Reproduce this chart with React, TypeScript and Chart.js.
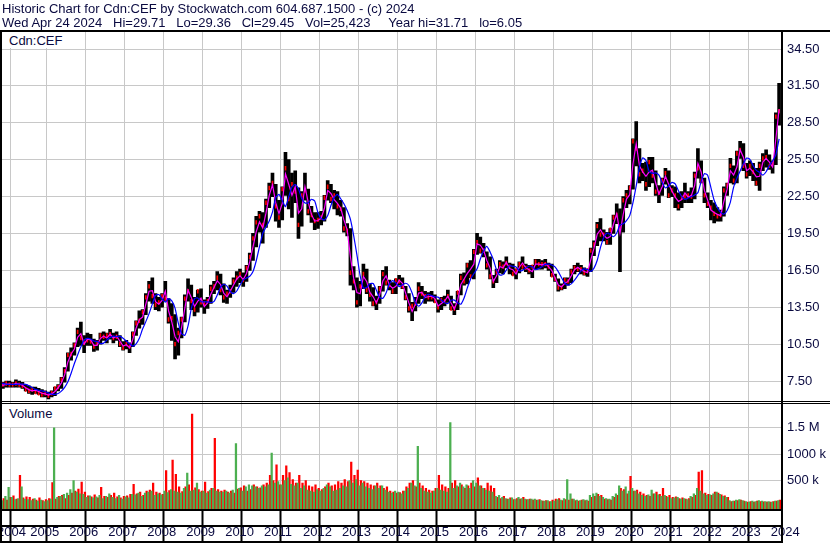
import React, { useEffect, useRef } from 'react';
import { Chart, registerables } from 'chart.js';

Chart.register(...registerables);

// ---- data (monthly, April 2004 .. April 2024) ----
const START_YEAR = 2004;
const START_MONTH = 3; // April, 0-based

const highs = [
  7.6, 7.4, 7.5, 7.5, 7.4, 7.6, 7.5, 7.4, 7.2,
  7.1, 7.0, 7.0, 6.9, 6.8, 6.7, 6.6, 6.7, 7.0, 7.2, 7.8, 8.6,
  9.8, 10.2, 10.6, 11.8, 12.3, 11.2, 11.4, 11.3, 10.9, 10.8, 11.4, 11.5,
  11.4, 11.7, 11.4, 11.5, 11.2, 10.7, 10.8, 10.6, 11.5, 12.4, 13.2, 13.3,
  14.6, 15.6, 15.9, 14.6, 14.3, 14.6, 15.6, 14.2, 13.8, 12.9, 11.8, 12.7,
  14.5, 15.8, 15.3, 14.3, 14.9, 15.0, 14.1, 14.3, 15.3, 15.6, 16.4, 16.2,
  15.4, 14.9, 15.3, 15.9, 16.4, 16.6, 16.3, 16.9, 17.9, 19.5, 20.9, 21.3,
  21.2, 22.3, 23.6, 24.4, 23.5, 22.2, 23.3, 26.1, 25.5, 24.4, 24.6, 23.2,
  22.9, 24.4, 23.1, 21.7, 21.2, 21.2, 21.3, 22.6, 23.8, 23.5, 23.0, 22.9,
  22.2, 21.6, 20.3, 19.9, 16.8, 15.9, 15.6, 17.0, 16.6, 15.4, 15.1, 14.4,
  15.2, 16.5, 16.8, 15.7, 15.5, 15.8, 16.1, 15.9, 15.2, 14.6, 13.9, 14.3,
  15.5, 15.2, 14.8, 14.7, 14.8, 14.5, 14.1, 14.3, 14.4, 14.9, 14.4, 13.8,
  14.8, 16.2, 16.3, 17.1, 17.3, 18.2, 19.5, 19.2, 18.7, 18.0, 17.6, 16.1,
  16.6, 17.3, 17.2, 17.6, 17.1, 17.0, 16.6, 17.2, 17.6, 17.0, 16.9, 16.9,
  17.4, 17.4, 17.3, 17.4, 17.1, 17.0, 16.2, 15.8, 15.4, 15.9, 15.9, 16.6,
  16.9, 17.1, 16.9, 16.7, 16.6, 18.3, 18.9, 20.4, 20.7, 19.8, 19.6, 19.9,
  21.0, 21.9, 21.5, 22.5, 23.0, 23.4, 27.2, 28.6, 26.4, 25.2, 25.3, 25.7,
  25.7, 24.6, 23.4, 24.0, 24.8, 24.6, 23.4, 23.3, 22.8, 22.9, 23.6, 22.9,
  23.2, 24.5, 26.4, 25.4, 24.0, 22.8, 22.2, 22.0, 21.6, 21.4, 23.3, 23.6,
  25.6, 25.0, 26.2, 27.0, 26.8, 25.2, 25.4, 25.2, 24.8, 25.3, 26.0, 26.3,
  25.9, 25.4, 29.3, 31.7,
];

const lows = [
  6.9, 6.9, 7.0, 7.0, 7.0, 7.0, 7.0, 6.9, 6.7,
  6.5, 6.4, 6.5, 6.4, 6.2, 6.2, 6.05, 6.2, 6.3, 6.7, 6.9, 7.4,
  8.3, 9.2, 9.6, 10.3, 10.4, 9.8, 10.4, 10.4, 9.9, 10.0, 10.5, 10.8,
  10.6, 10.9, 10.6, 10.8, 10.3, 10.0, 10.1, 9.8, 10.3, 11.2, 11.8, 12.1,
  12.9, 14.0, 13.8, 13.3, 13.2, 13.5, 14.0, 12.2, 10.8, 9.3, 9.6, 11.0,
  12.3, 14.0, 13.3, 12.8, 13.1, 13.5, 13.0, 13.4, 13.8, 14.6, 14.9, 14.5,
  13.9, 13.8, 14.3, 14.7, 15.2, 15.5, 15.2, 15.6, 16.5, 17.3, 18.4, 19.6,
  18.7, 20.0, 21.6, 22.5, 20.5, 20.0, 20.6, 22.6, 21.5, 20.8, 22.0, 19.1,
  20.1, 22.2, 21.0, 20.4, 19.8, 19.9, 20.2, 20.5, 22.2, 22.0, 21.5, 21.0,
  20.9, 19.6, 19.3, 15.3, 14.9, 13.5, 13.6, 15.0, 14.6, 14.0, 13.6, 13.3,
  13.8, 14.8, 15.3, 14.9, 14.6, 14.6, 15.3, 15.0, 14.1, 13.1, 12.4, 13.2,
  13.8, 14.2, 13.8, 14.0, 14.0, 13.9, 13.1, 13.3, 13.6, 13.9, 13.3, 12.9,
  13.3, 14.5, 15.3, 15.4, 15.9, 15.8, 17.8, 17.9, 17.6, 16.6, 15.8, 15.1,
  15.5, 16.3, 16.2, 16.7, 16.2, 16.1, 15.8, 16.3, 16.6, 16.4, 16.2, 15.9,
  16.6, 16.6, 16.6, 16.7, 16.5, 16.0, 15.6, 14.8, 14.9, 15.0, 15.3, 15.5,
  16.2, 16.4, 16.2, 16.1, 16.0, 16.4, 17.7, 18.5, 18.9, 18.9, 18.6, 18.6,
  19.5, 20.3, 16.4, 19.6, 21.6, 21.9, 23.1, 25.0, 23.6, 23.8, 23.0, 23.3,
  23.6, 22.6, 22.0, 22.6, 23.5, 22.4, 22.5, 21.6, 21.4, 21.6, 22.0, 22.0,
  22.0, 22.3, 24.0, 23.6, 22.0, 21.6, 20.6, 20.35, 20.5, 20.5, 20.9, 22.6,
  23.6, 23.5, 23.6, 25.6, 24.6, 24.0, 24.2, 23.8, 23.4, 23.0, 24.6, 24.9,
  24.7, 24.4, 25.1, 28.3,
];

const closes = [
  7.2, 7.2, 7.3, 7.2, 7.2, 7.3, 7.2, 7.1, 6.8,
  6.7, 6.8, 6.6, 6.5, 6.4, 6.5, 6.3, 6.5, 6.9, 7.0, 7.6, 8.3,
  9.6, 9.7, 10.4, 11.5, 11.0, 10.6, 10.8, 10.7, 10.3, 10.6, 11.2, 11.1,
  11.2, 11.3, 11.0, 11.1, 10.5, 10.2, 10.5, 10.3, 11.3, 12.2, 12.4, 13.1,
  14.3, 15.2, 14.4, 13.7, 13.9, 14.4, 14.2, 12.5, 12.6, 10.5, 11.4, 12.5,
  14.2, 14.8, 14.0, 13.3, 14.8, 13.9, 13.8, 14.0, 15.0, 15.2, 15.9, 14.9,
  14.3, 14.6, 14.8, 15.6, 15.9, 16.2, 15.7, 16.7, 17.6, 19.1, 20.4, 20.9,
  20.2, 22.0, 23.2, 23.6, 21.7, 20.8, 23.1, 24.8, 22.3, 23.5, 22.9, 20.2,
  22.6, 23.0, 21.3, 21.0, 20.5, 20.6, 20.8, 22.4, 23.3, 22.3, 22.6, 21.7,
  21.5, 19.9, 19.7, 16.3, 15.6, 13.9, 15.2, 16.2, 14.9, 14.5, 13.8, 13.9,
  15.0, 16.2, 15.5, 15.3, 14.8, 15.7, 15.6, 15.2, 14.3, 13.4, 13.6, 13.8,
  15.0, 14.6, 14.4, 14.3, 14.3, 14.0, 13.5, 14.1, 14.0, 14.4, 13.4, 13.4,
  14.7, 15.9, 15.6, 16.9, 16.0, 18.0, 18.8, 18.1, 18.1, 16.9, 16.0, 15.6,
  16.4, 17.0, 16.8, 17.1, 16.8, 16.2, 16.5, 17.0, 16.8, 16.7, 16.5, 16.8,
  17.2, 17.0, 17.0, 17.0, 16.8, 16.1, 15.8, 15.1, 15.1, 15.7, 15.6, 16.4,
  16.7, 16.6, 16.6, 16.3, 16.5, 18.1, 18.6, 20.1, 19.4, 19.4, 18.8, 19.8,
  20.8, 21.0, 19.9, 22.2, 22.6, 23.2, 27.0, 26.4, 24.3, 24.6, 23.5, 25.3,
  24.2, 22.9, 22.8, 23.8, 24.4, 22.6, 23.0, 22.6, 21.7, 22.4, 22.5, 22.6,
  22.5, 24.2, 24.8, 23.8, 22.6, 21.9, 21.6, 21.1, 20.9, 21.0, 23.0, 23.4,
  25.0, 23.8, 26.0, 26.3, 25.0, 24.3, 25.0, 24.5, 23.6, 25.0, 25.6, 25.7,
  25.0, 25.2, 29.0, 29.45,
];

const fastMA = [
  7.25, 7.15, 7.25, 7.25, 7.2, 7.3, 7.25, 7.15, 6.95,
  6.8, 6.7, 6.75, 6.65, 6.5, 6.45, 6.35, 6.45, 6.65, 6.95, 7.35, 8.0,
  9.05, 9.7, 10.1, 11.05, 11.35, 10.5, 10.9, 10.85, 10.4, 10.4, 10.95, 11.15,
  11.0, 11.3, 11.0, 11.15, 10.75, 10.35, 10.45, 10.2, 10.9, 11.8, 12.5, 12.7,
  13.75, 14.8, 14.85, 13.95, 13.75, 14.05, 14.8, 13.2, 12.3, 11.1, 10.7, 11.85,
  13.4, 14.9, 14.3, 13.55, 14.0, 14.25, 13.55, 13.85, 14.55, 15.1, 15.65, 15.35,
  14.65, 14.35, 14.8, 15.3, 15.8, 16.05, 15.75, 16.25, 17.2, 18.4, 19.65, 20.45,
  19.95, 21.15, 22.6, 23.45, 22.0, 21.1, 21.95, 24.35, 23.5, 22.6, 23.3, 21.15,
  21.5, 23.3, 22.05, 21.05, 20.5, 20.55, 20.75, 21.55, 23.0, 22.75, 22.25, 21.95,
  21.55, 20.6, 19.8, 17.6, 15.85, 14.7, 14.6, 16.0, 15.6, 14.7, 14.35, 13.85,
  14.5, 15.65, 16.05, 15.3, 15.05, 15.2, 15.7, 15.45, 14.65, 13.85, 13.15, 13.75,
  14.65, 14.7, 14.3, 14.35, 14.4, 14.2, 13.6, 13.8, 14.0, 14.4, 13.85, 13.35,
  14.05, 15.35, 15.8, 16.25, 16.6, 17.0, 18.65, 18.55, 18.15, 17.3, 16.7, 15.6,
  16.05, 16.8, 16.7, 17.15, 16.65, 16.55, 16.2, 16.75, 17.1, 16.7, 16.55, 16.4,
  17.0, 17.0, 16.95, 17.05, 16.8, 16.5, 15.9, 15.3, 15.15, 15.45, 15.6, 16.05,
  16.55, 16.75, 16.55, 16.4, 16.3, 17.35, 18.3, 19.45, 19.8, 19.35, 19.1, 19.25,
  20.25, 21.1, 19.5, 21.05, 22.3, 22.65, 25.15, 26.8, 25.0, 24.5, 24.15, 24.5,
  24.65, 23.6, 22.7, 23.3, 24.15, 23.5, 22.95, 22.45, 22.1, 22.25, 22.8, 22.45,
  22.6, 23.4, 25.2, 24.5, 23.0, 22.2, 21.4, 21.2, 21.05, 20.95, 22.1, 23.1,
  24.6, 24.25, 24.9, 26.3, 25.7, 24.6, 24.8, 24.5, 24.1, 24.15, 25.3, 25.6,
  25.3, 24.9, 27.2, 29.6,
];

const slowMA = [
  7.3, 7.3, 7.25, 7.22, 7.22, 7.23, 7.25, 7.25, 7.23,
  7.12, 6.97, 6.82, 6.75, 6.7, 6.63, 6.53, 6.43, 6.42, 6.48, 6.68, 6.98,
  7.43, 8.13, 8.92, 9.62, 10.28, 10.83, 10.97, 10.92, 10.75, 10.72, 10.55, 10.58,
  10.83, 11.03, 11.15, 11.1, 11.15, 10.97, 10.75, 10.52, 10.33, 10.52, 10.97, 11.73,
  12.33, 12.98, 13.75, 14.47, 14.53, 14.18, 13.92, 14.2, 14.02, 13.43, 12.2, 11.37,
  11.22, 11.98, 13.38, 14.2, 14.25, 13.95, 13.93, 13.93, 13.88, 13.98, 14.5, 15.1,
  15.37, 15.22, 14.78, 14.6, 14.82, 15.3, 15.72, 15.87, 16.02, 16.4, 17.28, 18.42,
  19.5, 20.02, 20.52, 21.23, 22.4, 22.68, 22.18, 21.68, 22.47, 23.27, 23.48, 23.13,
  22.35, 21.98, 21.98, 22.28, 22.13, 21.2, 20.7, 20.6, 20.95, 21.77, 22.43, 22.67,
  22.32, 21.92, 21.37, 20.65, 19.33, 17.75, 16.05, 15.05, 15.1, 15.4, 15.43, 14.88,
  14.3, 14.23, 14.67, 15.4, 15.67, 15.47, 15.18, 15.32, 15.45, 15.27, 14.65, 13.88,
  13.58, 13.85, 14.37, 14.55, 14.45, 14.35, 14.32, 14.07, 13.87, 13.8, 14.07, 14.08,
  13.87, 13.75, 14.25, 15.07, 15.8, 16.22, 16.62, 17.42, 18.07, 18.45, 18.0, 17.38,
  16.53, 16.12, 16.15, 16.52, 16.88, 16.83, 16.78, 16.47, 16.5, 16.68, 16.85, 16.78,
  16.55, 16.65, 16.8, 16.98, 17.0, 16.93, 16.78, 16.4, 15.9, 15.45, 15.3, 15.4,
  15.7, 16.07, 16.45, 16.62, 16.57, 16.42, 16.68, 17.32, 18.37, 19.18, 19.53, 19.42,
  19.23, 19.53, 20.2, 20.28, 20.55, 20.95, 22.0, 23.37, 24.87, 25.65, 25.43, 24.55,
  24.38, 24.43, 24.25, 23.65, 23.2, 23.38, 23.65, 23.53, 22.97, 22.5, 22.27, 22.38,
  22.5, 22.62, 22.82, 23.73, 24.37, 24.23, 23.23, 22.2, 21.6, 21.22, 21.07, 21.37,
  22.05, 23.27, 23.98, 24.58, 25.15, 25.63, 25.53, 25.03, 24.63, 24.47, 24.25, 24.52,
  25.02, 25.4, 25.9, 27.2,
];

// volume in thousands of shares
const volGreen = [
  150, 120, 200, 370, 180, 140, 160, 380, 150,
  140, 120, 160, 110, 130, 100, 120, 150, 1500, 180, 200, 240,
  260, 330, 500, 280, 250, 240, 180, 210, 170, 190, 220, 160,
  200, 250, 180, 160, 220, 150, 190, 170, 240, 230, 260, 200,
  260, 280, 300, 220, 250, 230, 300, 270, 330, 300, 280, 260,
  350, 640, 300, 320, 450, 280, 300, 260, 320, 350, 300, 280,
  280, 300, 260, 320, 1200, 350, 300, 380, 420, 400, 380, 350,
  400, 380, 420, 1020, 450, 480, 420, 500, 550, 430, 400, 450,
  350, 400, 320, 300, 280, 330, 300, 350, 420, 380, 300, 320,
  350, 400, 380, 500, 450, 520, 400, 450, 380, 350, 330, 400,
  350, 400, 320, 280, 260, 300, 280, 250, 300, 350, 450, 400,
  1150, 350, 300, 280, 260, 300, 350, 320, 300, 280, 1600, 350,
  400, 450, 380, 420, 350, 500, 450, 400, 350, 320, 300, 280,
  200, 220, 180, 160, 150, 170, 140, 180, 160, 150, 140, 150,
  150, 130, 120, 110, 120, 100, 110, 140, 130, 160, 520, 250,
  150, 130, 120, 140, 130, 220, 250, 260, 200, 180, 160, 150,
  200, 250, 400, 300, 380, 300, 350, 300, 250, 220, 200, 230,
  320, 250, 230, 200, 220, 180, 160, 170, 180, 150, 160, 140,
  200, 250, 350, 300, 250, 220, 230, 250, 280, 240, 200, 180,
  120, 110, 130, 140, 120, 100, 90, 110, 100, 120, 110, 100,
  100, 90, 110, 120,
];

const volRed = [
  200, 160, 130, 180, 210, 150, 600, 170, 190,
  180, 150, 130, 170, 120, 140, 160, 460, 150, 200, 220, 160,
  220, 260, 300, 340, 470, 280, 210, 190, 230, 170, 370, 200,
  180, 220, 260, 190, 170, 200, 210, 240, 430, 250, 280, 220,
  300, 320, 450, 280, 260, 240, 690, 310, 890, 620, 380, 290,
  380, 420, 1760, 360, 330, 300, 470, 290, 350, 1300, 330, 300,
  320, 280, 300, 260, 340, 360, 400, 300, 330, 420, 380, 360,
  420, 450, 600, 500, 800, 420, 600, 780, 650, 520, 450, 600,
  450, 500, 400, 380, 420, 350, 330, 380, 450, 400, 420, 480,
  450, 520, 480, 850, 600, 700, 500, 480, 450, 420, 400, 450,
  400, 350, 380, 300, 280, 260, 270, 300, 380, 450, 500, 380,
  450, 400, 350, 320, 300, 350, 600, 420, 380, 350, 450, 500,
  380, 420, 350, 400, 450, 380, 550, 400, 350, 450, 400, 350,
  180, 160, 200, 150, 170, 140, 160, 150, 180, 140, 150, 130,
  130, 140, 110, 120, 100, 130, 150, 160, 120, 140, 130, 150,
  120, 110, 130, 120, 110, 180, 200, 240, 220, 150, 140, 130,
  180, 220, 350, 330, 250, 580, 300, 320, 280, 250, 220, 200,
  250, 280, 240, 350, 200, 220, 180, 190, 160, 170, 150, 160,
  180, 220, 660, 690, 260, 240, 220, 280, 260, 230, 210, 180,
  100, 110, 120, 130, 110, 90, 100, 90, 110, 100, 95, 90,
  90, 100, 110, 130,
];

const yearLabels = [
  '2004', '2005', '2006', '2007', '2008', '2009', '2010', '2011', '2012', '2013', '2014',
  '2015', '2016', '2017', '2018', '2019', '2020', '2021', '2022', '2023', '2024',
];
const priceTicks = [7.5, 9, 10.5, 12, 13.5, 15, 16.5, 18, 19.5, 21, 22.5, 24, 25.5, 27, 28.5, 30, 31.5, 33, 34.5];
const volumeTicks = [500, 1000, 1500];
const volumeTickLabels = ['500 k', '1000 k', '1.5 M'];

const titleLine1 = 'Historic Chart for Cdn:CEF by Stockwatch.com 604.687.1500 - (c) 2024';
const titleLine2 = 'Wed Apr 24 2024   Hi=29.71   Lo=29.36   Cl=29.45   Vol=25,423     Year hi=31.71   lo=6.05';

// ---- styling ----
const FONT = '"Liberation Sans", Arial, sans-serif';
const TEXT = '#0a0a40';
const GRID = '#c8c8c8';

const X_MIN = 2004.351;
const X_MAX = 2024.366;
const FIRST_LABEL_POS = 2004.145;
const VOL_FLOOR = -40;

export default function App() {
  const ref = useRef<HTMLCanvasElement | null>(null);

  useEffect(() => {
    const canvas = ref.current;
    if (!canvas) return;
    const months = highs.map((_, i) => START_YEAR + (START_MONTH + i + 0.5) / 12);
    const pts = (arr: number[]) => arr.map((v, i) => ({ x: months[i], y: v }));
    const yearTickValues = yearLabels.map((l, i) => (i === 0 ? FIRST_LABEL_POS : Number(l)));

    const chrome = {
      id: 'chrome',
      afterDraw(chart: any) {
        const { ctx, chartArea } = chart;
        const yv = chart.scales.yv;
        ctx.save();
        ctx.fillStyle = '#000';
        const r = Math.round(chartArea.right);
        ctx.fillRect(0, 30, 830, 2);
        ctx.fillRect(0, 30, 2, 513);
        ctx.fillRect(r - 1, 30, 2, 513);
        ctx.fillRect(0, Math.round(yv.top) - 1, 830, 1);
        ctx.fillRect(0, Math.round(yv.top) + 1, 830, 1);
        ctx.fillRect(0, 509, r + 1, 2);
        ctx.fillRect(0, 525, r + 1, 2);
        ctx.fillRect(0, 541, r + 1, 2);
        ctx.restore();
      },
    };

    const chart = new Chart(canvas, {
      type: 'bar',
      data: {
        datasets: [
          {
            type: 'line',
            label: 'MA slow',
            data: pts(slowMA),
            yAxisID: 'y',
            borderColor: '#0000ff',
            borderWidth: 1.2,
            pointRadius: 0,
            tension: 0.2,
            order: 0,
          },
          {
            type: 'line',
            label: 'MA fast',
            data: pts(fastMA),
            yAxisID: 'y',
            borderColor: '#ff00ff',
            borderWidth: 1.2,
            pointRadius: 0,
            tension: 0,
            order: 1,
          },
          {
            type: 'bar',
            label: 'Close',
            data: months.map((x, i) => ({ x, y: [closes[i] - 0.15, closes[i] + 0.15] })),
            yAxisID: 'y',
            backgroundColor: '#ff0000',
            barThickness: 1,
            grouped: false,
            order: 2,
          },
          {
            type: 'bar',
            label: 'Range',
            data: months.map((x, i) => ({ x, y: [lows[i], highs[i]] })),
            yAxisID: 'y',
            backgroundColor: '#000000',
            barThickness: 3,
            grouped: false,
            order: 3,
          },
          {
            type: 'bar',
            label: 'Volume up',
            data: pts(volGreen),
            yAxisID: 'yv',
            backgroundColor: '#4caf50',
            barThickness: 1.6,
            base: VOL_FLOOR,
            stack: 'g',
            order: 4,
          },
          {
            type: 'bar',
            label: 'Volume down',
            data: pts(volRed),
            yAxisID: 'yv',
            backgroundColor: '#ff0000',
            barThickness: 1.6,
            base: VOL_FLOOR,
            stack: 'r',
            order: 5,
          },
        ] as any,
      },
      options: {
        animation: false,
        responsive: false,
        events: [],
        layout: { padding: { top: 32, left: 2, right: 0, bottom: 0 } },
        plugins: { legend: { display: false }, tooltip: { enabled: false } },
        scales: {
          x: {
            type: 'linear',
            position: 'bottom',
            min: X_MIN,
            max: X_MAX,
            offset: false,
            afterBuildTicks: (s: any) => {
              s.ticks = yearTickValues.map((v) => ({ value: v }));
            },
            afterFit: (s: any) => {
              s.height = 34;
            },
            ticks: {
              autoSkip: false,
              maxRotation: 0,
              minRotation: 0,
              align: 'start',
              labelOffset: 3,
              padding: -16,
              color: TEXT,
              font: { family: FONT, size: 13 },
              callback: (_v: any, i: number) => yearLabels[i],
            },
            grid: { color: GRID, lineWidth: 1, drawTicks: true, tickLength: 32, tickColor: '#000', tickWidth: 2 },
            border: { display: false },
          },
          y: {
            type: 'linear',
            position: 'right',
            stack: 'panels',
            stackWeight: 369.5,
            min: 5.833,
            max: 35.883,
            afterBuildTicks: (s: any) => {
              s.ticks = priceTicks.map((v) => ({ value: v }));
            },
            afterFit: (s: any) => {
              s.width = 48;
            },
            ticks: {
              padding: 5,
              color: TEXT,
              font: { family: FONT, size: 13 },
              callback: (v: any) => Number(v).toFixed(2),
            },
            grid: { color: GRID, lineWidth: 1, drawTicks: false },
            border: { display: false },
          },
          yv: {
            type: 'linear',
            position: 'right',
            stack: 'panels',
            stackWeight: 107.5,
            min: VOL_FLOOR,
            max: 2000,
            afterBuildTicks: (s: any) => {
              s.ticks = volumeTicks.map((v) => ({ value: v }));
            },
            afterFit: (s: any) => {
              s.width = 48;
            },
            ticks: {
              padding: 5,
              color: TEXT,
              font: { family: FONT, size: 13 },
              callback: (_v: any, i: number) => volumeTickLabels[i],
            },
            grid: { color: GRID, lineWidth: 1, drawTicks: false },
            border: { display: false },
          },
        } as any,
      },
      plugins: [chrome],
    });
    return () => chart.destroy();
  }, []);

  const textStyle: React.CSSProperties = {
    fontFamily: FONT,
    fontSize: 13,
    lineHeight: '14px',
    color: TEXT,
    whiteSpace: 'pre',
  };

  return (
    <div style={{ position: 'absolute', left: 0, top: 0, width: 830, height: 543, background: '#fff', overflow: 'hidden' }}>
      <canvas ref={ref} width={830} height={543} style={{ position: 'absolute', left: 0, top: 0, width: 830, height: 543 }} />
      <div style={{ ...textStyle, position: 'absolute', left: 2, top: 1.5, lineHeight: '14.5px' }}>
        <div>{titleLine1}</div>
        <div>{titleLine2}</div>
      </div>
      <div style={{ ...textStyle, position: 'absolute', left: 2, top: 32, width: 64, height: 16, background: '#fff', paddingLeft: 7, paddingTop: 2, boxSizing: 'border-box' }}>
        Cdn:CEF
      </div>
      <div style={{ ...textStyle, position: 'absolute', left: 2, top: 404, width: 58, height: 23, background: '#fff', paddingLeft: 7, paddingTop: 2.5, boxSizing: 'border-box' }}>
        Volume
      </div>
    </div>
  );
}
